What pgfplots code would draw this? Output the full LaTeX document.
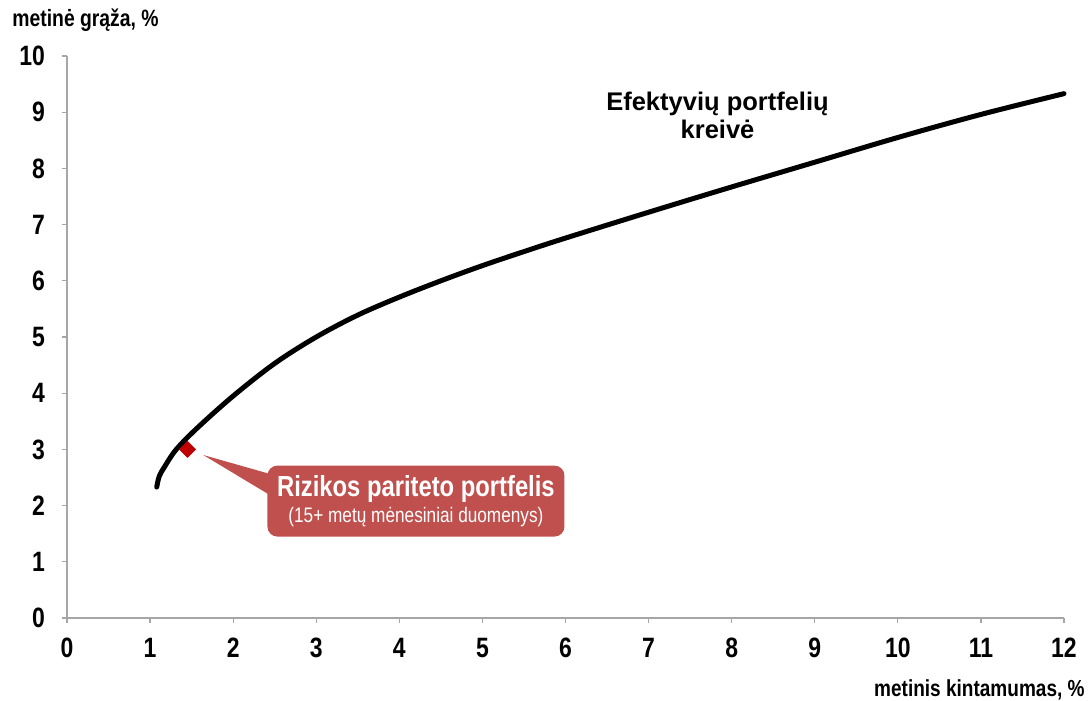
\documentclass[border=0pt]{standalone}
\usepackage{pgfplots}
\pgfplotsset{compat=1.18}
\usepackage{fontspec}
\setmainfont{Liberation Sans}[FakeStretch=0.82]
\newfontfamily\wide{Liberation Sans}
\definecolor{AxGray}{HTML}{A6A6A6}
\definecolor{BoxRed}{HTML}{C0504D}
\definecolor{DotRed}{HTML}{C00000}

\begin{document}
\begin{tikzpicture}
\begin{axis}[
    name=ax, anchor=south west, at={(0,0)},
    scale only axis, width=498.5pt, height=281pt,
    xmin=0, xmax=12, ymin=0, ymax=10,
    xtick={0,...,12}, ytick={0,...,10},
    axis lines=left, axis line style={-, AxGray, line width=0.6pt},
    tick style={AxGray, line width=0.6pt},
    tick align=outside, major tick length=2.5pt,
    /pgf/number format/assume math mode=true,
    ticklabel style={font=\fontsize{14}{16}\selectfont\bfseries},
    xticklabel style={yshift=-4pt},
    yticklabel style={xshift=-5pt},
    clip=false,
]
\addplot[black, line width=2.5pt, line cap=round, smooth, tension=0.55] coordinates {
 (1.08,2.33) (1.11,2.52) (1.17,2.68) (1.31,2.99) (1.56,3.37)
 (2.0,3.95) (2.5,4.53) (3.0,5.00) (3.5,5.39) (4.0,5.71) (4.5,6.00)
 (5.0,6.27) (5.5,6.52) (6.0,6.76) (7.0,7.22) (8.0,7.67) (9.0,8.11)
 (10,8.55) (11,8.96) (12,9.33)};
\addplot[only marks, mark=square*, mark size=2.8pt, mark options={rotate=45, fill=DotRed, draw=DotRed}]
  coordinates {(1.45,3.0)};
\fill[BoxRed] (axis cs:1.64,2.90) -- (axis cs:2.45,2.56) -- (axis cs:2.45,2.18) -- cycle;
\node[fill=BoxRed, rounded corners=5pt, text=white, align=center,
      minimum width=148.5pt, minimum height=35.5pt, inner sep=1pt]
  at (axis cs:4.2,2.08)
  {{\fontsize{14.5}{17}\selectfont\bfseries Rizikos pariteto portfelis}\\[1pt]
   {\fontsize{10.5}{12}\selectfont (15+ metų mėnesiniai duomenys)}};
\node[align=center, font=\wide\fontsize{12.75}{14}\selectfont\bfseries]
  at (axis cs:7.83,8.95) {Efektyvių portfelių\\kreivė};
\end{axis}
\node[anchor=west, inner sep=0pt, font=\fontsize{11.8}{14}\selectfont\bfseries] at (-27.5pt,299pt) {metinė grąža, \%};
\node[anchor=east, inner sep=0pt, font=\fontsize{11.6}{14}\selectfont\bfseries] at (509pt,-36pt) {metinis kintamumas, \%};
\pgfresetboundingbox
\path (-33.5pt,-41.5pt) rectangle (511pt,309pt);
\end{tikzpicture}
\end{document}
